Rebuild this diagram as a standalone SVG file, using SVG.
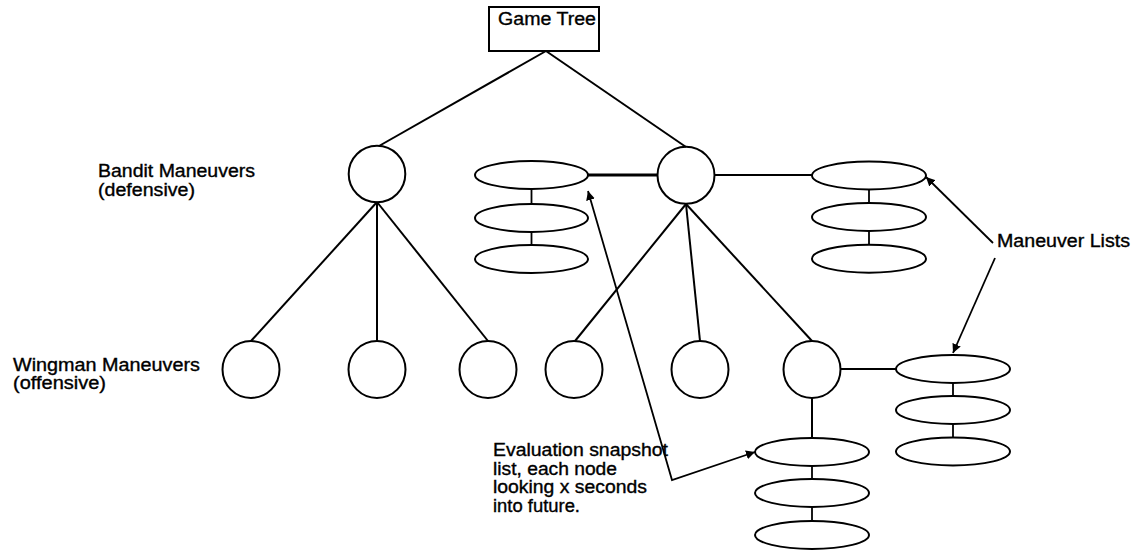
<svg xmlns="http://www.w3.org/2000/svg" width="1135" height="552" viewBox="0 0 1135 552">
<defs>
<style>
.n{fill:none;stroke:#000;stroke-width:2}
.c{fill:none;stroke:#000;stroke-width:2}
.l{fill:none;stroke:#000;stroke-width:1.8}
.t{font-family:"Liberation Sans",Arial,Helvetica,sans-serif;font-size:17.5px;fill:#000;stroke:#000;stroke-width:0.35}
</style>
<marker id="ah" viewBox="0 0 10 10" refX="10" refY="5" markerWidth="9" markerHeight="9" markerUnits="userSpaceOnUse" orient="auto">
<path d="M0,0 L10,5 L0,10 z" fill="#000"/>
</marker>
<marker id="ahs" viewBox="0 0 10 10" refX="0" refY="5" markerWidth="9" markerHeight="9" markerUnits="userSpaceOnUse" orient="auto">
<path d="M10,0 L0,5 L10,10 z" fill="#000"/>
</marker>
</defs>
<rect width="1135" height="552" fill="#fff"/>

<g id="connectors">
<line class="c" x1="546" y1="51" x2="379" y2="146"/>
<line class="c" x1="546" y1="51" x2="686" y2="147"/>
<line class="c" x1="377" y1="202" x2="251" y2="341"/>
<line class="c" x1="377" y1="202" x2="377" y2="341"/>
<line class="c" x1="377" y1="202" x2="488" y2="341"/>
<line class="c" x1="686" y1="204" x2="575" y2="341"/>
<line class="c" x1="686" y1="204" x2="700" y2="341"/>
<line class="c" x1="686" y1="204" x2="812" y2="341"/>
<line class="c" x1="588" y1="175" x2="657.5" y2="175" style="stroke-width:3"/>
<line class="c" x1="714.5" y1="175" x2="812" y2="175"/>
<line class="c" x1="840.5" y1="369" x2="896" y2="369"/>
<line class="c" x1="812" y1="397.5" x2="812" y2="438"/>
<line class="l" x1="531.5" y1="189" x2="531.5" y2="204"/>
<line class="l" x1="531.5" y1="232" x2="531.5" y2="245"/>
<line class="l" x1="869" y1="189.5" x2="869" y2="203"/>
<line class="l" x1="869" y1="231" x2="869" y2="244.7"/>
<line class="l" x1="953" y1="383" x2="953" y2="396"/>
<line class="l" x1="953" y1="424" x2="953" y2="437.5"/>
<line class="l" x1="812" y1="466" x2="812" y2="479"/>
<line class="l" x1="812" y1="507" x2="812" y2="521"/>
<line class="l" x1="993" y1="243" x2="926" y2="177" marker-end="url(#ah)"/>
<line class="l" x1="995" y1="258" x2="953" y2="353" marker-end="url(#ah)"/>
<polyline class="l" points="588,191 672,480 755,452" marker-start="url(#ahs)" marker-end="url(#ah)"/>
</g>

<g id="game-tree">
<rect class="n" x="489" y="7" width="110" height="44"/>
<text class="t" x="498" y="25" textLength="98" lengthAdjust="spacingAndGlyphs">Game Tree</text>
</g>

<g id="label-bandit">
<text class="t" x="98" y="177" textLength="157" lengthAdjust="spacingAndGlyphs">Bandit Maneuvers</text>
<text class="t" x="98" y="196" textLength="97" lengthAdjust="spacingAndGlyphs">(defensive)</text>
</g>
<g id="label-wingman">
<text class="t" x="13" y="371" textLength="187" lengthAdjust="spacingAndGlyphs">Wingman Maneuvers</text>
<text class="t" x="13" y="389" textLength="93" lengthAdjust="spacingAndGlyphs">(offensive)</text>
</g>

<g id="bandit-1"><circle class="n" cx="377" cy="174" r="28.3"/></g>
<g id="bandit-2"><circle class="n" cx="686" cy="175.3" r="28.5"/></g>

<g id="wingman-1"><circle class="n" cx="251" cy="369.5" r="28.5"/></g>
<g id="wingman-2"><circle class="n" cx="377" cy="369.5" r="28.5"/></g>
<g id="wingman-3"><circle class="n" cx="488" cy="369.5" r="28.5"/></g>
<g id="wingman-4"><circle class="n" cx="574" cy="369.5" r="28.5"/></g>
<g id="wingman-5"><circle class="n" cx="700" cy="369.5" r="28.5"/></g>
<g id="wingman-6"><circle class="n" cx="812" cy="369.5" r="28.5"/></g>

<g id="list-left">
<ellipse class="n" cx="531.5" cy="175" rx="56.5" ry="14"/>
<ellipse class="n" cx="531.5" cy="218" rx="56.5" ry="14"/>
<ellipse class="n" cx="531.5" cy="259" rx="56.5" ry="14"/>
</g>
<g id="list-right">
<ellipse class="n" cx="869" cy="175.5" rx="57" ry="14"/>
<ellipse class="n" cx="869" cy="217" rx="57" ry="14"/>
<ellipse class="n" cx="869" cy="258.7" rx="57" ry="14"/>
</g>
<g id="list-lower-right">
<ellipse class="n" cx="953" cy="369" rx="57" ry="14"/>
<ellipse class="n" cx="953" cy="410" rx="57" ry="14"/>
<ellipse class="n" cx="953" cy="451.5" rx="57" ry="14"/>
</g>
<g id="list-evaluation">
<ellipse class="n" cx="812" cy="452" rx="57" ry="14"/>
<ellipse class="n" cx="812" cy="493" rx="57" ry="14"/>
<ellipse class="n" cx="812" cy="535" rx="57" ry="14"/>
</g>

<g id="label-maneuver-lists">
<text class="t" x="997" y="247" textLength="133" lengthAdjust="spacingAndGlyphs">Maneuver Lists</text>
</g>
<g id="label-evaluation">
<text class="t" x="493" y="456" textLength="175" lengthAdjust="spacingAndGlyphs">Evaluation snapshot</text>
<text class="t" x="493" y="474.5" textLength="124" lengthAdjust="spacingAndGlyphs">list, each node</text>
<text class="t" x="493" y="493" textLength="154" lengthAdjust="spacingAndGlyphs">looking x seconds</text>
<text class="t" x="493" y="511.5" textLength="87" lengthAdjust="spacingAndGlyphs">into future.</text>
</g>
</svg>
